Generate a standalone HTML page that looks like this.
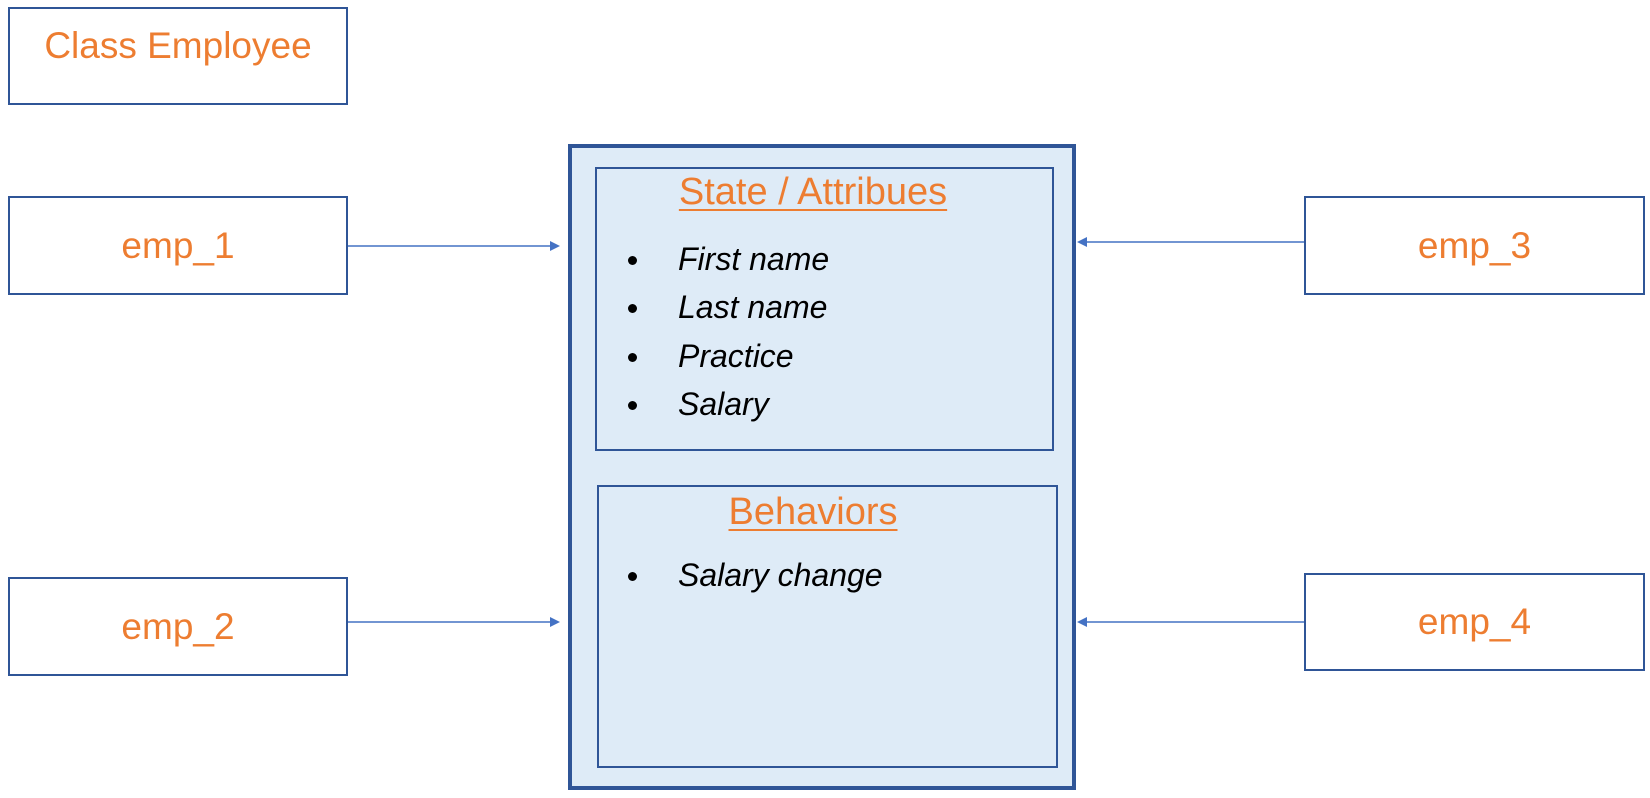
<!DOCTYPE html>
<html><head><style>
body{margin:0;width:1650px;height:798px;background:#fff;position:relative;overflow:hidden;font-family:"Liberation Sans",sans-serif}
.b{position:absolute;border:2.5px solid #2F5597;box-sizing:border-box;color:#ED7D31;display:flex;align-items:center;justify-content:center;font-size:37px}
.t{position:absolute;color:#ED7D31;font-size:38px;text-decoration:underline;text-decoration-thickness:2px;text-underline-offset:5px;transform:translateX(-50%);white-space:nowrap}
.li{position:absolute;font-style:italic;font-size:32px;color:#000;white-space:nowrap}
.dot{position:absolute;width:9px;height:9px;border-radius:50%;background:#000}
</style></head><body>
<div class="b" style="left:8px;top:7px;width:340px;height:98px;align-items:flex-start;padding-top:16px">Class Employee</div>
<div class="b" style="left:8px;top:196px;width:340px;height:99px">emp_1</div>
<div class="b" style="left:8px;top:577px;width:340px;height:99px">emp_2</div>
<div class="b" style="left:1304px;top:196px;width:341px;height:99px">emp_3</div>
<div class="b" style="left:1304px;top:573px;width:341px;height:98px">emp_4</div>
<div style="position:absolute;left:568px;top:144px;width:508px;height:646px;border:4px solid #2F5597;box-sizing:border-box;background:#DEEBF7"></div>
<div style="position:absolute;left:595px;top:167px;width:459px;height:284px;border:2.5px solid #2F5597;box-sizing:border-box"></div>
<div style="position:absolute;left:597px;top:485px;width:461px;height:283px;border:2.5px solid #2F5597;box-sizing:border-box"></div>
<div class="t" style="left:813px;top:171px">State / Attribues</div>
<div class="t" style="left:813px;top:491px">Behaviors</div>
<div class="dot" style="left:628px;top:256px"></div><div class="li" style="left:678px;top:241px">First name</div>
<div class="dot" style="left:628px;top:304px"></div><div class="li" style="left:678px;top:289px">Last name</div>
<div class="dot" style="left:628px;top:353px"></div><div class="li" style="left:678px;top:338px">Practice</div>
<div class="dot" style="left:628px;top:401px"></div><div class="li" style="left:678px;top:386px">Salary</div>
<div class="dot" style="left:628px;top:572px"></div><div class="li" style="left:678px;top:557px">Salary change</div>
<svg style="position:absolute;left:0;top:0" width="1650" height="798">
<g stroke="#4472C4" stroke-width="1.5" fill="#4472C4">
<line x1="348" y1="246" x2="552" y2="246"/><polygon points="560,246 550,241 550,251" stroke="none"/>
<line x1="348" y1="622" x2="552" y2="622"/><polygon points="560,622 550,617 550,627" stroke="none"/>
<line x1="1304" y1="242" x2="1086" y2="242"/><polygon points="1077,242 1087,237 1087,247" stroke="none"/>
<line x1="1304" y1="622" x2="1086" y2="622"/><polygon points="1077,622 1087,617 1087,627" stroke="none"/>
</g></svg>
</body></html>
